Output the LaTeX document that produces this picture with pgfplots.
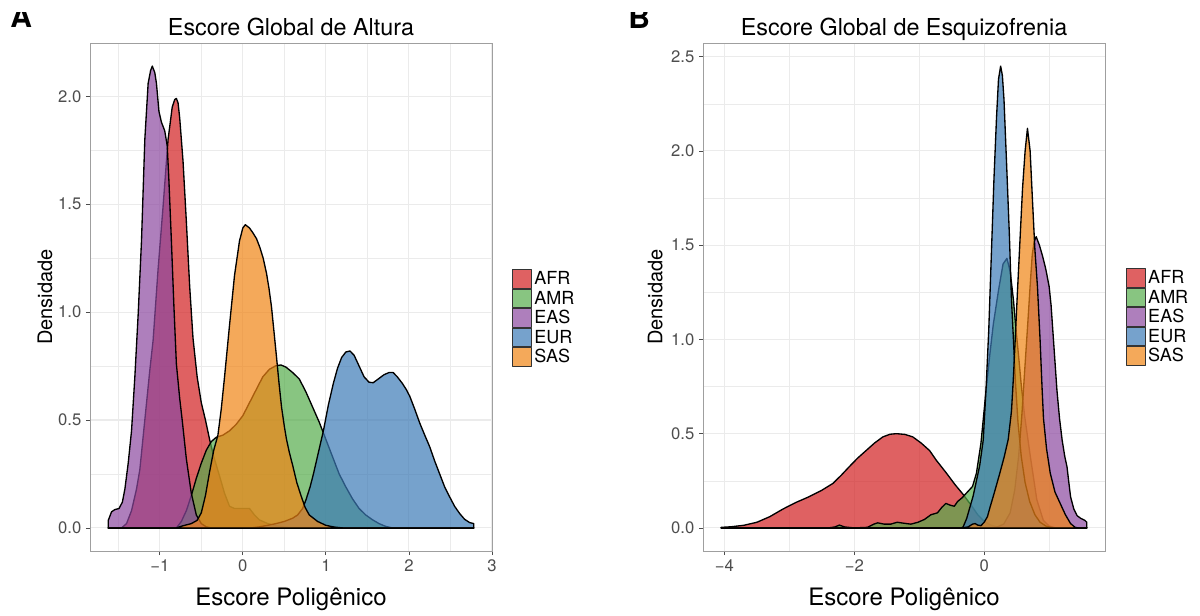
\documentclass[border=0pt]{standalone}
\usepackage{fontspec}
\setmainfont{TeX Gyre Heros}
\usepackage{pgfplots}
\pgfplotsset{compat=1.18}

\definecolor{cAFR}{RGB}{210,30,32}
\definecolor{cAMR}{RGB}{85,172,75}
\definecolor{cEAS}{RGB}{140,72,160}
\definecolor{cEUR}{RGB}{60,122,182}
\definecolor{cSAS}{RGB}{240,132,20}
\definecolor{gridc}{RGB}{235,235,235}
\definecolor{tickc}{RGB}{77,77,77}

\def\u{0.75pt}

\pgfplotsset{
  dens/.style={
    scale only axis, width=301.5pt, height=381pt,
    axis line style={draw=gray!75, line width=0.6pt},
    tick align=outside, major tick length=3pt, minor tick length=0pt,
    xtick pos=bottom, ytick pos=left,
    tick style={draw=tickc, line width=0.6pt},
    grid=both,
    major grid style={draw=gridc, line width=0.8pt},
    minor grid style={draw=gridc, line width=0.4pt},
    ticklabel style={font=\fontsize{12.5}{14}\selectfont, text=tickc},
    xlabel style={font=\fontsize{18}{21}\selectfont, at={(axis description cs:0.5,-0.108)}, anchor=base, yshift=0pt},
    ylabel style={font=\fontsize{15}{18}\selectfont, anchor=center},
    title style={font=\fontsize{17.5}{21}\selectfont, at={(axis description cs:0.5,1.0)}, anchor=base, yshift=0pt},
    legend cell align=left,
    legend style={draw=none, fill=none, anchor=north west,
      font=\fontsize{13.5}{15}\selectfont, row sep=0pt, inner sep=0pt,
      nodes={inner xsep=1.5pt, inner ysep=0pt}},
    legend image code/.code={\draw[#1, line width=0.8pt, draw=black!80] (0pt,-6.9pt) rectangle (14.25pt,6.9pt);},
  },
  dp/.style={fill=#1, fill opacity=0.7, draw=black, line width=1pt, line join=round, mark=none},
}

\begin{document}
\begin{tikzpicture}
\path[use as bounding box] (0,0) rectangle (1200*\u,-615*\u);

\begin{scope}
\clip (0,-12*\u) rectangle (1200*\u,-615*\u);
\node[anchor=base west, inner sep=0, font=\fontsize{22.5}{24}\selectfont\bfseries] at (10*\u,-27*\u) {A};
\node[anchor=base west, inner sep=0, font=\fontsize{22.5}{24}\selectfont\bfseries] at (628*\u,-28*\u) {B};
\end{scope}

% ---------------- Panel A ----------------
\begin{axis}[dens,
  at={(90*\u,-551*\u)}, anchor=south west,
  xmin=-1.84, xmax=3.0, ymin=-0.107, ymax=2.247,
  xtick={-1,0,1,2,3}, xticklabels={−1,0,1,2,3},
  minor xtick={-1.5,-0.5,0.5,1.5,2.5},
  ytick={0,0.5,1,1.5,2}, yticklabels={0.0,0.5,1.0,1.5,2.0},
  minor ytick={0.25,0.75,1.25,1.75},
  title={Escore Global de Altura},
  xlabel={Escore Poligênico}, ylabel={Densidade},
  ylabel style={at={(axis description cs:-0.112,0.5)}},
  legend style={at={(axis description cs:1.0498,0.555)}},
]
\addplot[dp=cAFR] coordinates {(-1.62,0) (-1.46,0) (-1.40,0.02) (-1.34,0.08) (-1.28,0.18) (-1.24,0.27) (-1.18,0.50) (-1.12,0.73) (-1.08,0.87) (-1.02,1.20) (-0.96,1.49) (-0.90,1.80) (-0.85,1.95) (-0.82,1.985) (-0.80,1.99) (-0.78,1.97) (-0.76,1.90) (-0.72,1.70) (-0.68,1.42) (-0.64,1.12) (-0.60,0.88) (-0.55,0.70) (-0.50,0.58) (-0.45,0.50) (-0.40,0.41) (-0.35,0.33) (-0.28,0.24) (-0.22,0.16) (-0.16,0.10) (-0.10,0.09) (0.0,0.09) (0.08,0.09) (0.14,0.06) (0.2,0.037) (0.3,0.02) (0.4,0.01) (0.5,0.004) (0.6,0) (2.78,0)} \closedcycle;
\addlegendentry{AFR}
\addplot[dp=cAMR] coordinates {(-1.62,0) (-0.80,0) (-0.74,0.03) (-0.68,0.08) (-0.62,0.15) (-0.56,0.23) (-0.50,0.30) (-0.44,0.36) (-0.38,0.40) (-0.32,0.42) (-0.24,0.43) (-0.16,0.45) (-0.08,0.48) (0.0,0.52) (0.08,0.58) (0.16,0.64) (0.24,0.70) (0.32,0.735) (0.40,0.752) (0.46,0.755) (0.52,0.745) (0.60,0.72) (0.68,0.69) (0.76,0.63) (0.84,0.56) (0.92,0.49) (1.00,0.41) (1.08,0.33) (1.16,0.25) (1.24,0.19) (1.32,0.135) (1.40,0.09) (1.48,0.06) (1.56,0.038) (1.64,0.02) (1.72,0.007) (1.80,0) (2.78,0)} \closedcycle;
\addlegendentry{AMR}
\addplot[dp=cEAS] coordinates {(-1.62,0) (-1.62,0.035) (-1.58,0.075) (-1.54,0.085) (-1.49,0.09) (-1.45,0.12) (-1.42,0.18) (-1.38,0.30) (-1.34,0.45) (-1.30,0.70) (-1.26,0.99) (-1.22,1.33) (-1.18,1.80) (-1.14,2.06) (-1.11,2.12) (-1.09,2.14) (-1.06,2.11) (-1.04,2.06) (-1.01,1.93) (-0.98,1.88) (-0.94,1.84) (-0.91,1.77) (-0.89,1.61) (-0.86,1.33) (-0.83,1.03) (-0.80,0.76) (-0.76,0.60) (-0.73,0.50) (-0.68,0.32) (-0.62,0.16) (-0.56,0.06) (-0.50,0.02) (-0.44,0.005) (-0.38,0) (2.78,0)} \closedcycle;
\addlegendentry{EAS}
\addplot[dp=cEUR] coordinates {(-1.62,0) (0.10,0) (0.2,0.005) (0.3,0.012) (0.4,0.02) (0.5,0.03) (0.6,0.045) (0.66,0.06) (0.72,0.09) (0.76,0.13) (0.81,0.19) (0.85,0.25) (0.91,0.35) (0.97,0.45) (1.03,0.57) (1.09,0.67) (1.14,0.74) (1.19,0.79) (1.24,0.815) (1.29,0.82) (1.34,0.80) (1.40,0.75) (1.46,0.70) (1.52,0.675) (1.57,0.673) (1.63,0.69) (1.70,0.71) (1.76,0.72) (1.81,0.72) (1.86,0.70) (1.92,0.67) (1.97,0.64) (2.01,0.61) (2.07,0.55) (2.13,0.486) (2.19,0.43) (2.25,0.376) (2.31,0.31) (2.37,0.25) (2.43,0.19) (2.49,0.144) (2.55,0.10) (2.61,0.067) (2.67,0.04) (2.73,0.025) (2.78,0.02) (2.78,0)} \closedcycle;
\addlegendentry{EUR}
\addplot[dp=cSAS] coordinates {(-1.62,0) (-0.80,0) (-0.72,0.01) (-0.62,0.02) (-0.55,0.035) (-0.50,0.07) (-0.45,0.15) (-0.40,0.26) (-0.35,0.36) (-0.30,0.43) (-0.26,0.55) (-0.22,0.70) (-0.16,0.94) (-0.10,1.17) (-0.04,1.33) (0.0,1.39) (0.03,1.405) (0.08,1.39) (0.124,1.366) (0.165,1.34) (0.205,1.30) (0.245,1.25) (0.285,1.18) (0.315,1.11) (0.345,1.025) (0.375,0.91) (0.406,0.79) (0.436,0.67) (0.466,0.56) (0.50,0.47) (0.526,0.41) (0.56,0.35) (0.60,0.29) (0.65,0.21) (0.70,0.15) (0.75,0.095) (0.80,0.06) (0.90,0.03) (1.0,0.012) (1.1,0.004) (1.2,0) (2.78,0)} \closedcycle;
\addlegendentry{SAS}
\end{axis}

% ---------------- Panel B ----------------
\begin{axis}[dens,
  at={(703*\u,-551*\u)}, anchor=south west,
  xmin=-4.33, xmax=1.86, ymin=-0.1225, ymax=2.5725,
  xtick={-4,-2,0}, xticklabels={−4,−2,0},
  minor xtick={-3,-1,1},
  ytick={0,0.5,1,1.5,2,2.5}, yticklabels={0.0,0.5,1.0,1.5,2.0,2.5},
  minor ytick={0.25,0.75,1.25,1.75,2.25},
  title={Escore Global de Esquizofrenia},
  xlabel={Escore Poligênico}, ylabel={Densidade},
  ylabel style={at={(axis description cs:-0.119,0.5)}},
  legend style={at={(axis description cs:1.052,0.557)}},
]
\addplot[dp=cAFR] coordinates {(-4.05,0) (-4.05,0.003) (-3.9,0.006) (-3.7,0.014) (-3.5,0.03) (-3.3,0.06) (-3.1,0.10) (-2.9,0.135) (-2.7,0.165) (-2.5,0.20) (-2.33,0.236) (-2.2,0.28) (-2.08,0.324) (-1.95,0.37) (-1.82,0.41) (-1.69,0.45) (-1.56,0.483) (-1.45,0.497) (-1.35,0.50) (-1.22,0.496) (-1.10,0.483) (-0.97,0.45) (-0.84,0.41) (-0.74,0.36) (-0.58,0.29) (-0.45,0.23) (-0.33,0.18) (-0.2,0.12) (-0.1,0.07) (0.0,0.035) (0.1,0.015) (0.2,0.005) (0.3,0) (1.58,0)} \closedcycle;
\addlegendentry{AFR}
\addplot[dp=cAMR] coordinates {(-4.05,0) (-2.4,0) (-2.3,0.005) (-2.23,0.015) (-2.15,0.005) (-2.0,0) (-1.8,0.003) (-1.7,0.02) (-1.64,0.027) (-1.54,0.02) (-1.44,0.02) (-1.34,0.03) (-1.24,0.025) (-1.13,0.02) (-1.02,0.03) (-0.92,0.045) (-0.82,0.07) (-0.72,0.08) (-0.65,0.11) (-0.59,0.13) (-0.52,0.12) (-0.46,0.115) (-0.41,0.14) (-0.34,0.16) (-0.26,0.19) (-0.18,0.22) (-0.12,0.29) (-0.05,0.45) (0.02,0.70) (0.08,0.90) (0.14,1.08) (0.22,1.26) (0.29,1.40) (0.35,1.43) (0.40,1.36) (0.45,1.21) (0.49,1.05) (0.53,0.91) (0.57,0.76) (0.62,0.60) (0.71,0.38) (0.81,0.15) (0.91,0.04) (1.0,0.01) (1.1,0) (1.58,0)} \closedcycle;
\addlegendentry{AMR}
\addplot[dp=cEAS] coordinates {(-4.05,0) (0.1,0) (0.2,0.005) (0.3,0.02) (0.4,0.08) (0.47,0.2) (0.53,0.38) (0.58,0.6) (0.63,0.87) (0.67,1.08) (0.71,1.30) (0.74,1.45) (0.77,1.52) (0.80,1.545) (0.85,1.50) (0.90,1.44) (0.95,1.37) (1.00,1.28) (1.03,1.18) (1.06,1.03) (1.09,0.88) (1.12,0.73) (1.16,0.58) (1.20,0.466) (1.24,0.38) (1.275,0.324) (1.30,0.25) (1.33,0.165) (1.38,0.10) (1.43,0.065) (1.49,0.05) (1.55,0.04) (1.58,0.03) (1.58,0)} \closedcycle;
\addlegendentry{EAS}
\addplot[dp=cEUR] coordinates {(-4.05,0) (-0.35,0) (-0.325,0.005) (-0.27,0.05) (-0.22,0.11) (-0.17,0.17) (-0.118,0.253) (-0.07,0.33) (-0.015,0.466) (0.03,0.75) (0.07,1.05) (0.11,1.45) (0.15,1.85) (0.19,2.18) (0.22,2.38) (0.253,2.45) (0.28,2.40) (0.305,2.27) (0.346,1.92) (0.387,1.56) (0.42,1.21) (0.45,1.0) (0.48,0.78) (0.52,0.56) (0.57,0.38) (0.63,0.24) (0.70,0.14) (0.78,0.07) (0.86,0.03) (0.95,0.01) (1.05,0) (1.58,0)} \closedcycle;
\addlegendentry{EUR}
\addplot[dp=cSAS] coordinates {(-4.05,0) (-0.35,0) (-0.25,0.005) (-0.18,0.02) (-0.14,0.023) (-0.10,0.015) (-0.05,0.012) (0.0,0.03) (0.05,0.06) (0.09,0.11) (0.15,0.18) (0.24,0.29) (0.31,0.38) (0.37,0.47) (0.42,0.62) (0.45,0.80) (0.48,1.02) (0.51,1.24) (0.55,1.52) (0.59,1.80) (0.63,2.0) (0.666,2.12) (0.707,2.0) (0.743,1.74) (0.78,1.48) (0.82,1.28) (0.86,1.00) (0.89,0.75) (0.913,0.58) (0.96,0.42) (1.017,0.29) (1.09,0.19) (1.17,0.13) (1.25,0.07) (1.33,0.023) (1.40,0.003) (1.45,0) (1.58,0)} \closedcycle;
\addlegendentry{SAS}
\end{axis}
\end{tikzpicture}
\end{document}
